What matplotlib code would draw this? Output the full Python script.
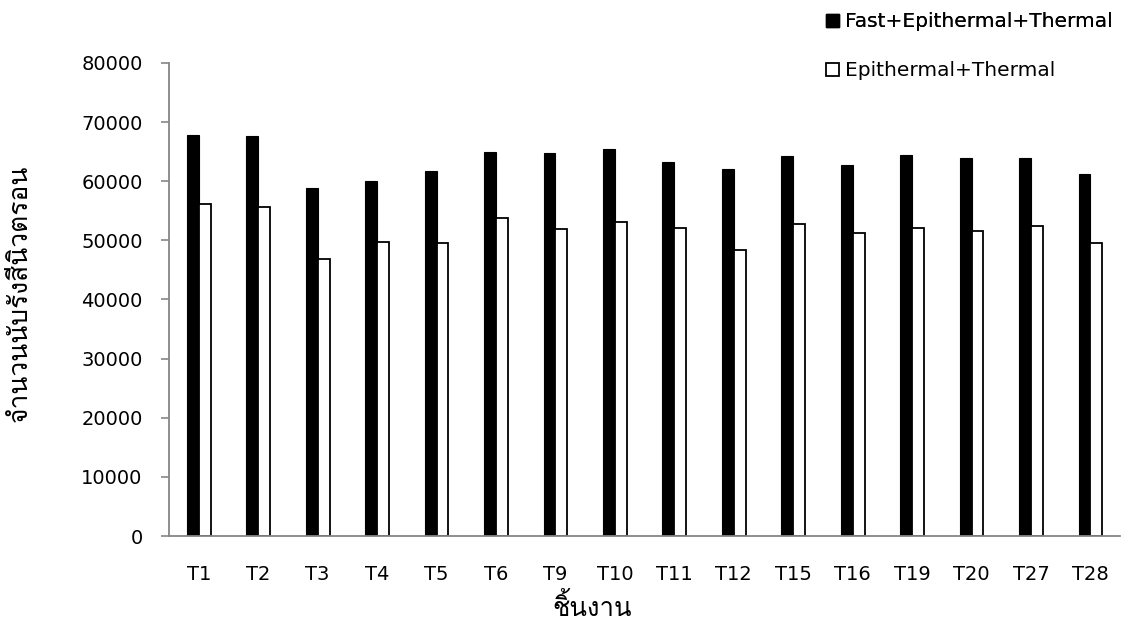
import matplotlib
matplotlib.use("Agg")
import matplotlib.pyplot as plt
from matplotlib import font_manager
from matplotlib.ft2font import FT2Font
from matplotlib.patches import Patch
import numpy as np

samples = ["T1", "T2", "T3", "T4", "T5", "T6", "T9", "T10",
           "T11", "T12", "T15", "T16", "T19", "T20", "T27", "T28"]
fast_epi_thermal = [67900, 67600, 58900, 60100, 61650, 64900, 64700, 65500,
                    63300, 62150, 64300, 62800, 64500, 63850, 63950, 61250]
epi_thermal = [56200, 55600, 46900, 49700, 49600, 53700, 51900, 53050,
               52100, 48300, 52750, 51250, 52150, 51550, 52400, 49600]
y_ticks = [0, 10000, 20000, 30000, 40000, 50000, 60000, 70000, 80000]


def thai_font():
    # pick any installed font that actually has Thai glyphs
    for f in font_manager.fontManager.ttflist:
        try:
            if 0x0E08 in FT2Font(f.fname).get_charmap():
                return f.name
        except Exception:
            continue
    return "DejaVu Sans"


plt.rcParams["font.family"] = ["DejaVu Sans"]
thai = [thai_font(), "DejaVu Sans"]

fig = plt.figure(figsize=(11.46, 6.44), dpi=100)
ax = fig.add_axes([0.1475, 0.1677, 0.83, 0.7345])

x = np.arange(len(samples))
w = 0.2
ax.bar(x - w / 2, fast_epi_thermal, w, color="black", edgecolor="black", lw=0.8)
ax.bar(x + w / 2, epi_thermal, w, color="white", edgecolor="black", lw=1.3)

ax.set_xlim(-0.5, len(samples) - 0.5)
ax.set_ylim(0, 80000)
ax.set_yticks(y_ticks)
ax.set_yticklabels([str(v) for v in y_ticks], fontsize=14)
ax.set_xticks(x)
ax.set_xticklabels(samples, fontsize=14)
ax.tick_params(axis="x", length=0, pad=21)
ax.tick_params(axis="y", length=6, color="#868686", width=1.2, pad=13)
for s in ["top", "right"]:
    ax.spines[s].set_visible(False)
for s in ["left", "bottom"]:
    ax.spines[s].set_color("#868686")
    ax.spines[s].set_linewidth(1.3)

fig.text(0.017, 0.545, "จำนวนนับรังสีนิวตรอน", rotation=90, ha="center",
         va="center", fontsize=19, family=thai)
fig.text(0.517, 0.058, "ชิ้นงาน", ha="center", va="center", fontsize=18.5,
         family=thai)

h1 = Patch(facecolor="black", edgecolor="black")
h2 = Patch(facecolor="white", edgecolor="black", lw=1.3)
leg_kw = dict(frameon=False, fontsize=14.5, handlelength=0.65,
              handleheight=0.65, handletextpad=0.3, borderpad=0,
              loc="center left")
leg1 = fig.legend([h1], ["Fast+Epithermal+Thermal"],
                  bbox_to_anchor=(0.712, 0.966), **leg_kw)
leg2 = fig.legend([h2], ["Epithermal+Thermal"],
                  bbox_to_anchor=(0.712, 0.89), **leg_kw)
fig.add_artist(leg1)

fig.savefig("out.png", dpi=100)
